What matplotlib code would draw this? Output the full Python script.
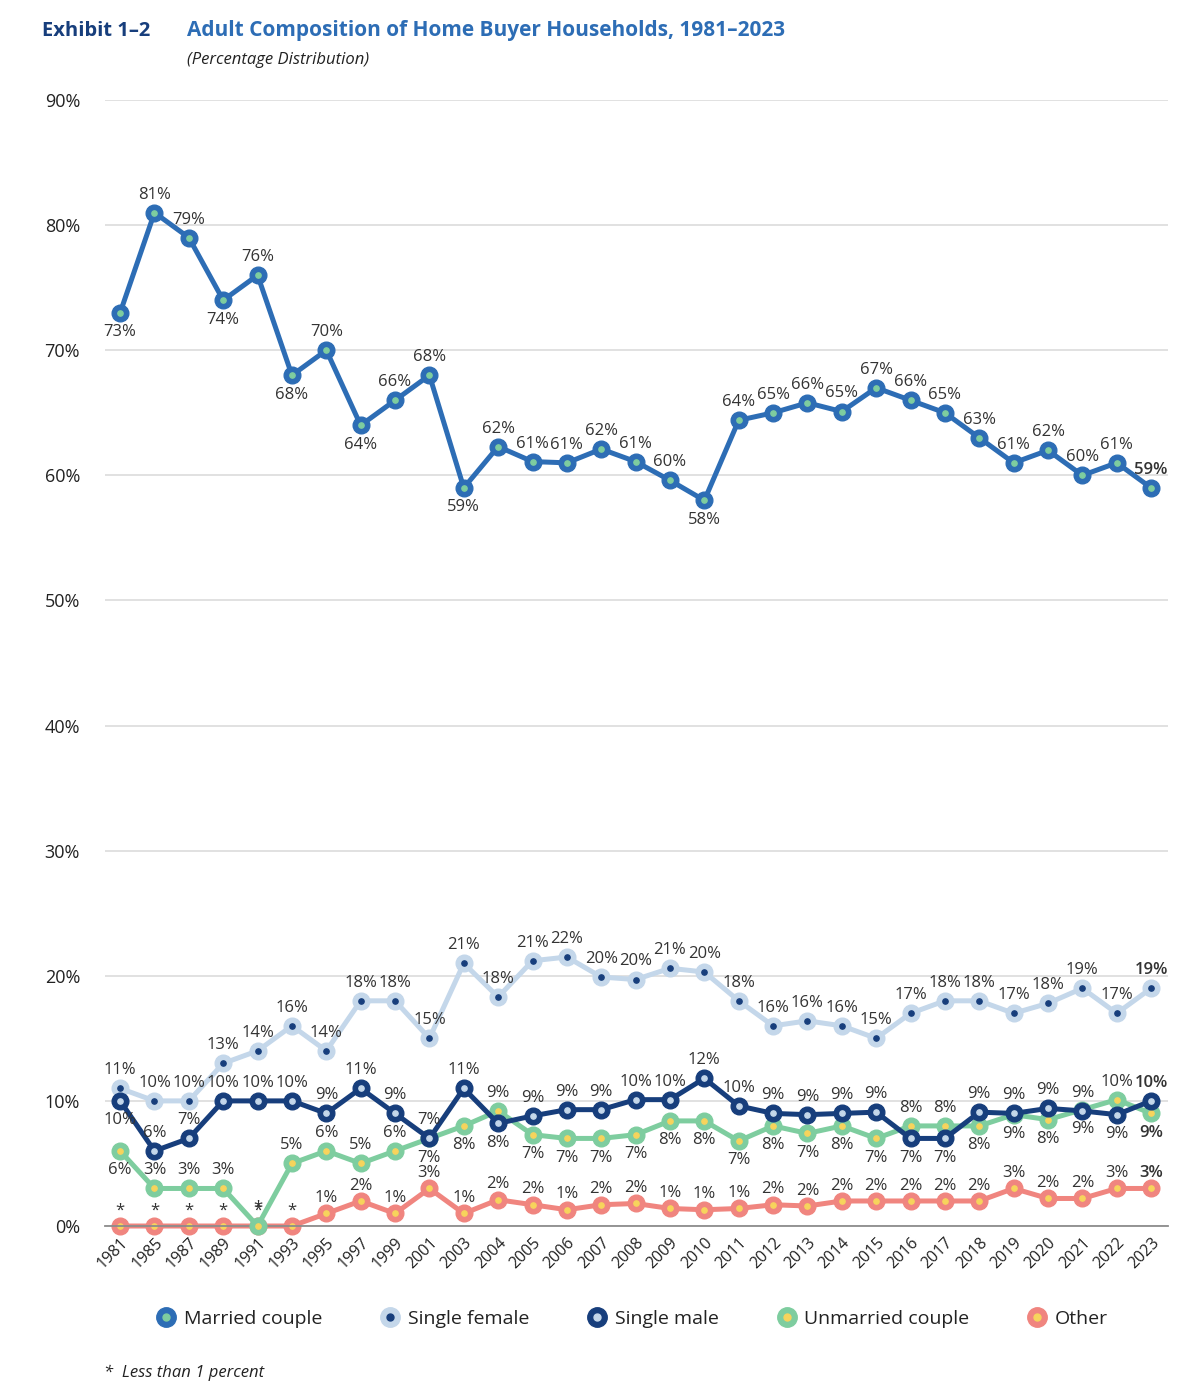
import numpy as np
import matplotlib.pyplot as plt
from matplotlib.lines import Line2D
from matplotlib.legend_handler import HandlerTuple

plt.rcParams['font.family'] = ['Open Sans', 'DejaVu Sans']

# ─── DATA ───────────────────────────────────────────────────────────────
years = ['1981', '1985', '1987', '1989', '1991', '1993', '1995', '1997', '1999', '2001',
         '2003', '2004', '2005', '2006', '2007', '2008', '2009', '2010', '2011', '2012',
         '2013', '2014', '2015', '2016', '2017', '2018', '2019', '2020', '2021', '2022', '2023']

married = [73, 81, 79, 74, 76, 68, 70, 64, 66, 68,
           59, 62.3, 61.1, 61, 62.1, 61.1, 59.6, 58, 64.4, 65,
           65.8, 65.1, 67, 66, 65, 63, 61, 62, 60, 61, 59]
single_female = [11, 10, 10, 13, 14, 16, 14, 18, 18, 15,
                 21, 18.3, 21.2, 21.5, 19.9, 19.7, 20.6, 20.3, 18, 16,
                 16.4, 16, 15, 17, 18, 18, 17, 17.8, 19, 17, 19]
single_male = [10, 6, 7, 10, 10, 10, 9, 11, 9, 7,
               11, 8.2, 8.8, 9.3, 9.3, 10.1, 10.1, 11.8, 9.6, 9.0,
               8.9, 9.0, 9.1, 7, 7, 9.1, 9.0, 9.4, 9.2, 8.9, 10]
unmarried = [6, 3, 3, 3, 0, 5, 6, 5, 6, 7,
             8, 9.2, 7.3, 7.0, 7.0, 7.3, 8.4, 8.4, 6.8, 8.0,
             7.4, 8.0, 7.0, 8.0, 8.0, 8.0, 8.9, 8.5, 9.3, 10.1, 9.0]
other = [0, 0, 0, 0, 0, 0, 1, 2, 1, 3,
         1, 2.1, 1.7, 1.3, 1.7, 1.8, 1.4, 1.3, 1.4, 1.7,
         1.6, 2.0, 2.0, 2.0, 2.0, 2.0, 3.0, 2.2, 2.2, 3.0, 3.0]

# label side: a = above, b = below
married_pos = list('baabababaab' + 'aaaaaab' + 'a' * 13)
female_pos = list('a' * 31)
male_pos = list('b' + 'a' * 10 + 'b' + 'a' * 11 + 'bbaaaaba')
unmarried_pos = list('b' + 'a' * 8 + 'bb' + 'a' + 'b' * 11 + 'aabbbbab')
other_pos = list('a' * 31)

series = [
    ('Other', other, other_pos, '#F0857F', '#F7D45C', 2),
    ('Unmarried couple', unmarried, unmarried_pos, '#7ECD9F', '#F7D45C', 3),
    ('Single female', single_female, female_pos, '#C4D7EA', '#173E7C', 4),
    ('Single male', single_male, male_pos, '#173E7C', '#C4D7EA', 5),
    ('Married couple', married, married_pos, '#2D6DB5', '#7ECD9F', 6),
]
legend_order = ['Married couple', 'Single female', 'Single male', 'Unmarried couple', 'Other']

# ─── PLOT ───────────────────────────────────────────────────────────────
fig = plt.figure(figsize=(12, 13.97), dpi=100)
ax = fig.add_axes([0.0875, 0.1224, 0.8858, 0.806])

x = np.arange(len(years))
handles = {}
for name, vals, pos, col, inner, z in series:
    ax.plot(x, vals, '-', color=col, lw=3.6, zorder=z, clip_on=False,
            solid_capstyle='round')
    ax.plot(x, vals, 'o', ms=12, mfc=col, mec=col, zorder=z, clip_on=False)
    ax.plot(x, vals, 'o', ms=3.8, mfc=inner, mec=inner, zorder=z + 0.1, clip_on=False)
    for i, (v, p) in enumerate(zip(vals, pos)):
        txt = '*' if v == 0 else f'{int(round(v))}%'
        dy = (11 if name == 'Other' else 13) if p == 'a' else -14
        ax.annotate(txt, (i, v), xytext=(0, dy), textcoords='offset points',
                    ha='center', va='center', fontsize=12, color='#333333',
                    fontweight='semibold' if i == len(vals) - 1 else 'normal',
                    zorder=10)
    handles[name] = (Line2D([], [], ls='', marker='o', ms=14, mfc=col, mec=col),
                     Line2D([], [], ls='', marker='o', ms=5, mfc=inner, mec=inner))

ax.set_xlim(-0.44, 30.49)
ax.set_ylim(0, 90)
ax.set_yticks(np.arange(0, 91, 10))
ax.set_yticklabels([f'{v}%' for v in range(0, 91, 10)], fontsize=13, color='#222222')
ax.set_xticks(x)
ax.set_xticklabels(years, rotation=45, ha='right', rotation_mode='anchor',
                   fontsize=11.5, color='#222222')
ax.tick_params(length=0, axis='y', pad=18)
ax.tick_params(length=0, axis='x', pad=6)
ax.grid(axis='y', color='#D9D9D9', lw=1.1)
ax.set_axisbelow(True)
for s in ['top', 'right', 'left']:
    ax.spines[s].set_visible(False)
ax.spines['bottom'].set_color('#8C8C8C')
ax.spines['bottom'].set_linewidth(1.3)

# titles
fig.text(0.035, 0.978, 'Exhibit 1\u20132', fontsize=14.5, fontweight='bold',
         color='#173E7C', va='center')
fig.text(0.156, 0.978, 'Adult Composition of Home Buyer Households, 1981\u20132023',
         fontsize=15, fontweight='bold', color='#2D6DB5', va='center')
fig.text(0.156, 0.957, '(Percentage Distribution)', fontsize=12, style='italic',
         color='#222222', va='center')

leg = fig.legend([handles[n] for n in legend_order], legend_order,
                 handler_map={tuple: HandlerTuple(ndivide=1, pad=0)},
                 loc='center', bbox_to_anchor=(0.526, 0.056), ncol=5, frameon=False,
                 fontsize=14, columnspacing=2.9, handletextpad=0.3, handlelength=1.2)
for t in leg.get_texts():
    t.set_color('#222222')

fig.text(0.087, 0.017, '*  Less than 1 percent', fontsize=12, style='italic',
         color='#222222', va='center')

fig.savefig('out.png', dpi=100)
